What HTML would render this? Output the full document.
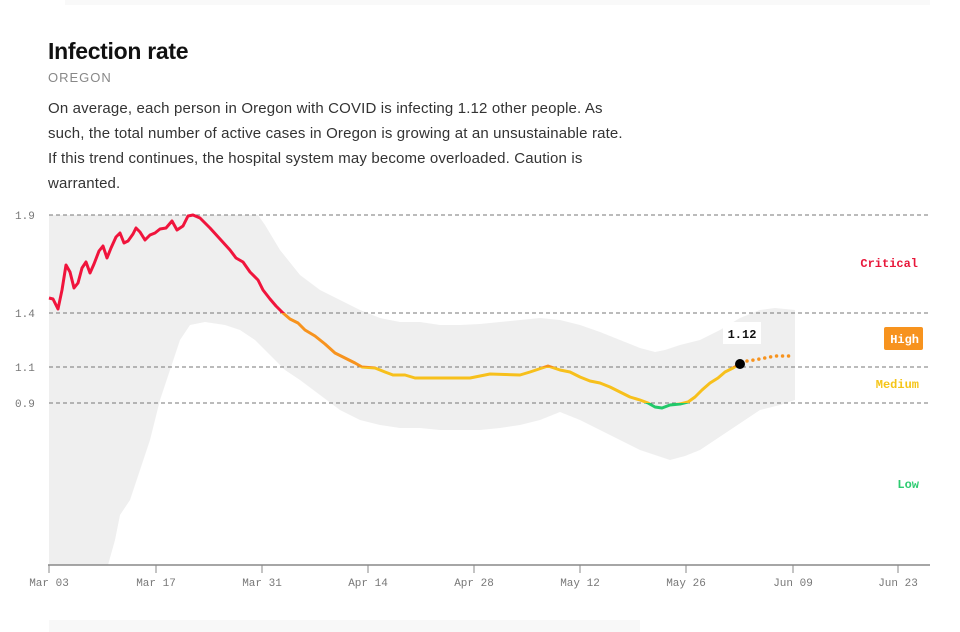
<!DOCTYPE html><html><head><style>
body{margin:0;width:960px;height:632px;background:#fff;font-family:"Liberation Sans",sans-serif;position:relative;overflow:hidden}
.t{position:absolute;left:48px;top:38px;font-size:23px;font-weight:bold;color:#111;letter-spacing:-0.3px}
.s{position:absolute;left:48px;top:70px;font-size:13px;color:#888;letter-spacing:1px}
.p{position:absolute;left:48px;top:96px;width:592px;font-size:15px;line-height:25px;color:#333;letter-spacing:0.15px}
svg{position:absolute;left:0;top:0}
</style></head><body>
<div style="position:absolute;left:65px;top:0;width:865px;height:5px;background:#f9f9f9"></div>
<div class="t">Infection rate</div>
<div class="s">OREGON</div>
<div class="p">On average, each person in Oregon with COVID is infecting 1.12 other people. As<br>such, the total number of active cases in Oregon is growing at an unsustainable rate.<br>If this trend continues, the hospital system may become overloaded. Caution is<br>warranted.</div>
<div style="position:absolute;left:49px;top:620px;width:591px;height:12px;background:#f8f8f8"></div>
<svg width="960" height="632" font-family="Liberation Mono,monospace">
<defs><linearGradient id="g" gradientUnits="userSpaceOnUse" x1="0" y1="0" x2="0" y2="632">
<stop offset="0.4953" stop-color="#f0143c"/><stop offset="0.4953" stop-color="#f7931e"/>
<stop offset="0.5807" stop-color="#f7931e"/><stop offset="0.5807" stop-color="#f7c01c"/>
<stop offset="0.6377" stop-color="#f7c01c"/><stop offset="0.6377" stop-color="#22c96a"/></linearGradient></defs>
<path fill="#efefef" d="M49,215 L258,215 L265,225 L280,250 L300,275 L320,290 L340,300 L360,310 L380,318 L400,322 L420,322 L440,325 L460,325 L480,324 L500,322 L520,320 L540,318 L560,320 L580,325 L600,332 L620,340 L640,348 L655,352 L665,350 L680,345 L700,340 L720,330 L740,318 L760,310 L775,308 L795,310 L795,400 L780,405 L760,410 L745,420 L730,430 L715,440 L700,450 L685,456 L670,460 L655,455 L640,450 L620,440 L600,430 L580,420 L560,412 L540,420 L520,425 L500,428 L480,430 L460,430 L440,430 L420,428 L400,428 L380,425 L360,420 L340,410 L320,395 L300,380 L285,370 L270,355 L255,340 L240,330 L225,325 L205,322 L190,325 L180,340 L170,370 L160,400 L150,440 L140,470 L130,500 L120,515 L115,540 L108,565 L49,565Z"/>
<g stroke="#777" stroke-dasharray="4,3" stroke-width="1">
<line x1="49" x2="928" y1="215" y2="215"/><line x1="49" x2="928" y1="313" y2="313"/>
<line x1="49" x2="928" y1="367" y2="367"/><line x1="49" x2="928" y1="403" y2="403"/></g>
<g fill="#777" font-size="11"><text x="15" y="219">1.9</text><text x="15" y="317">1.4</text><text x="15" y="371">1.1</text><text x="15" y="407">0.9</text></g>
<line x1="48" x2="930" y1="565" y2="565" stroke="#888" stroke-width="1.5"/>
<g stroke="#888"><line x1="49" x2="49" y1="565" y2="573"/><line x1="156" x2="156" y1="565" y2="573"/><line x1="262" x2="262" y1="565" y2="573"/><line x1="368" x2="368" y1="565" y2="573"/><line x1="474" x2="474" y1="565" y2="573"/><line x1="580" x2="580" y1="565" y2="573"/><line x1="686" x2="686" y1="565" y2="573"/><line x1="793" x2="793" y1="565" y2="573"/><line x1="898" x2="898" y1="565" y2="573"/></g>
<g fill="#777" font-size="11" text-anchor="middle"><text x="49" y="586">Mar 03</text><text x="156" y="586">Mar 17</text><text x="262" y="586">Mar 31</text><text x="368" y="586">Apr 14</text><text x="474" y="586">Apr 28</text><text x="580" y="586">May 12</text><text x="686" y="586">May 26</text><text x="793" y="586">Jun 09</text><text x="898" y="586">Jun 23</text></g>
<path fill="none" stroke="url(#g)" stroke-width="3" stroke-linejoin="round" d="M49,298 L53,299 L58,309 L62,290 L66,265 L70,272 L74,288 L78,283 L82,268 L86,262 L90,273 L94,264 L99,251 L103,246 L107,258 L111,248 L116,237 L120,233 L124,243 L128,241 L133,234 L136,228 L140,232 L145,240 L150,235 L155,233 L160,229 L166,228 L172,221 L177,230 L183,226 L188,216 L193,215 L200,218 L210,228 L220,239 L230,250 L236,258 L243,262 L250,272 L258,280 L263,290 L270,299 L276,306 L283,313 L290,319 L298,323 L305,330 L315,336 L325,344 L335,353 L345,358 L355,363 L362,367 L375,368 L385,372 L393,375 L405,375 L415,378 L470,378 L480,376 L490,374 L520,375 L530,372 L548,366 L560,370 L570,372 L580,377 L590,381 L600,383 L610,387 L620,392 L630,397 L640,400 L648,403 L655,407 L662,408 L670,405 L680,404 L688,402 L695,397 L702,390 L710,383 L718,378 L725,372 L733,368 L740,364"/>
<path fill="none" stroke="#f7931e" stroke-width="3.5" stroke-linecap="round" stroke-dasharray="0,6" d="M747,361 L760,359 L775,356 L790,356"/>
<circle cx="740" cy="364" r="5" fill="#000"/>
<rect x="723" y="322" width="38" height="22" fill="#fff"/>
<text x="742" y="338" font-size="12" font-weight="bold" text-anchor="middle" fill="#111">1.12</text>
<g font-size="12" font-weight="bold" text-anchor="end">
<text x="918" y="267" fill="#e8173a">Critical</text>
<rect x="884" y="327" width="39" height="23" rx="2" fill="#f7931e"/>
<text x="919" y="343" fill="#fff">High</text>
<text x="919" y="388" fill="#f5c518">Medium</text>
<text x="919" y="488" fill="#2ecc71">Low</text></g>
</svg></body></html>
